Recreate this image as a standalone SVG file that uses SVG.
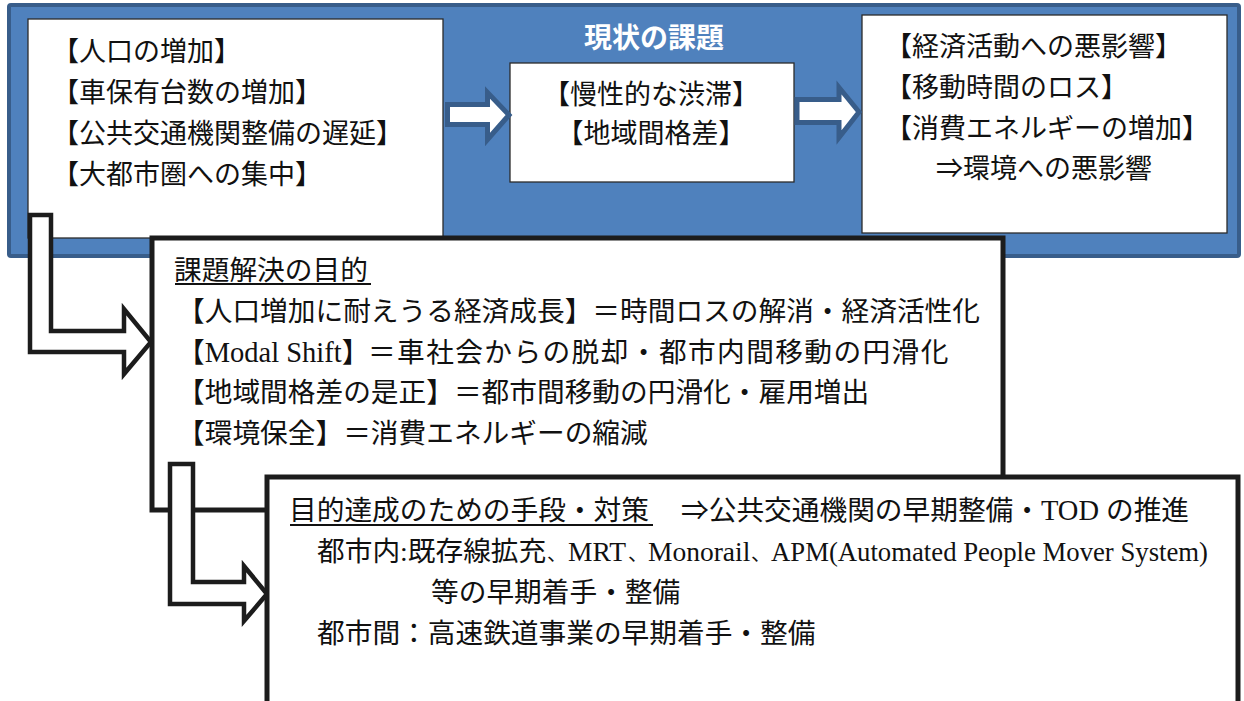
<svg xmlns="http://www.w3.org/2000/svg" width="1244" height="701" viewBox="0 0 1244 701">
<style>
text{font-family:"Liberation Serif","Noto Sans CJK JP",serif;fill:#111;font-size:27px}
.cjk{font-family:"Noto Sans CJK JP",sans-serif}
.b28{font-size:27.7px}
.lat{font-size:28.5px}
.lat2{font-size:27.5px}
.cm{font-size:20px}
.thin{fill:#fff;stroke:#2b2b2b;stroke-width:1.3}
.thick{fill:#fff;stroke:#1c1c1c;stroke-width:5}
.barrow{fill:#fff;stroke:#385D8A;stroke-width:5;stroke-linejoin:miter}
.karrow{fill:#fff;stroke:#1c1c1c;stroke-width:4.5;stroke-linejoin:miter}
.ul{stroke:#111;stroke-width:2}
</style>
<rect width="1244" height="701" fill="#fff"/>
<g id="banner">
<rect x="9" y="5" width="1230" height="251" rx="2" fill="#4F81BD" stroke="#385D8A" stroke-width="4"/>
<text x="654" y="48" text-anchor="middle" class="cjk" style="fill:#fff;font-size:28px;font-weight:bold">現状の課題</text>
</g>
<g id="causes">
<rect class="thin" x="28" y="19" width="415" height="219"/>
<text x="52" y="61">【人口の増加】</text>
<text x="52" y="102">【車保有台数の増加】</text>
<text x="52" y="143">【公共交通機関整備の遅延】</text>
<text x="52" y="184">【大都市圏への集中】</text>
</g>
<g id="issues">
<rect class="thin" x="510" y="63" width="284" height="119"/>
<text x="651" y="104" text-anchor="middle">【慢性的な渋滞】</text>
<text x="651" y="143" text-anchor="middle">【地域間格差】</text>
</g>
<g id="effects">
<rect class="thin" x="862" y="15" width="365" height="218"/>
<text x="885" y="56">【経済活動への悪影響】</text>
<text x="885" y="97">【移動時間のロス】</text>
<text x="885" y="138">【消費エネルギーの増加】</text>
<text x="936" y="178" class="cjk">⇒環境への悪影響</text>
</g>
<g id="purpose">
<rect class="thick" x="152" y="238" width="851" height="272"/>
<text x="174" y="280" class="b28">課題解決の目的</text>
<line class="ul" x1="175" y1="284" x2="371" y2="284"/>
<text x="177" y="321" class="b28">【人口増加に耐えうる経済成長】＝時間ロスの解消・経済活性化</text>
<text x="177" y="362" class="b28">【<tspan class="lat">Modal Shift</tspan>】<tspan x="368" style="letter-spacing:1.4px">＝車社会からの脱却・都市内間移動の円滑化</tspan></text>
<text x="177" y="402" class="b28">【地域間格差の是正】＝都市間移動の円滑化・雇用増出</text>
<text x="177" y="443" class="b28">【環境保全】＝消費エネルギーの縮減</text>
</g>
<g id="connectors">
<polygon class="barrow" points="447.5,104.5 487.5,104.5 487.5,92.5 509,115 487.5,139.5 487.5,124.5 447.5,124.5"/>
<polygon class="barrow" points="797,99.5 839,99.5 839,87.5 859,112 839,137.5 839,122.5 797,122.5"/>
<polygon class="karrow" points="30,215 51,215 51,331 124,331 124,309 151,342 124,374 124,352 30,352"/>
<polygon class="karrow" points="170,464 193,464 193,582 244,582 244,566 267,594 244,621 244,604 170,604"/>
</g>
<g id="measures">
<rect class="thick" x="267" y="477" width="971" height="260"/>
<text x="289" y="520" class="b28">目的達成のための手段・対策</text>
<line class="ul" x1="290" y1="525" x2="653" y2="525"/>
<text x="681" y="520" class="b28">⇒公共交通機関の早期整備・<tspan class="lat">TOD</tspan> の推進</text>
<text x="317" y="561" class="b28">都市内:既存線拡充<tspan x="547" class="cm">、</tspan><tspan x="568" class="lat2">MRT</tspan><tspan x="628" class="cm">、</tspan><tspan x="648" class="lat2">Monorail</tspan><tspan x="751" class="cm">、</tspan><tspan x="771" class="lat2" textLength="437" lengthAdjust="spacingAndGlyphs">APM(Automated People Mover System)</tspan></text>
<text x="431" y="602" class="b28">等の早期着手・整備</text>
<text x="317" y="643" class="b28">都市間：高速鉄道事業の早期着手・整備</text>
</g>
</svg>
